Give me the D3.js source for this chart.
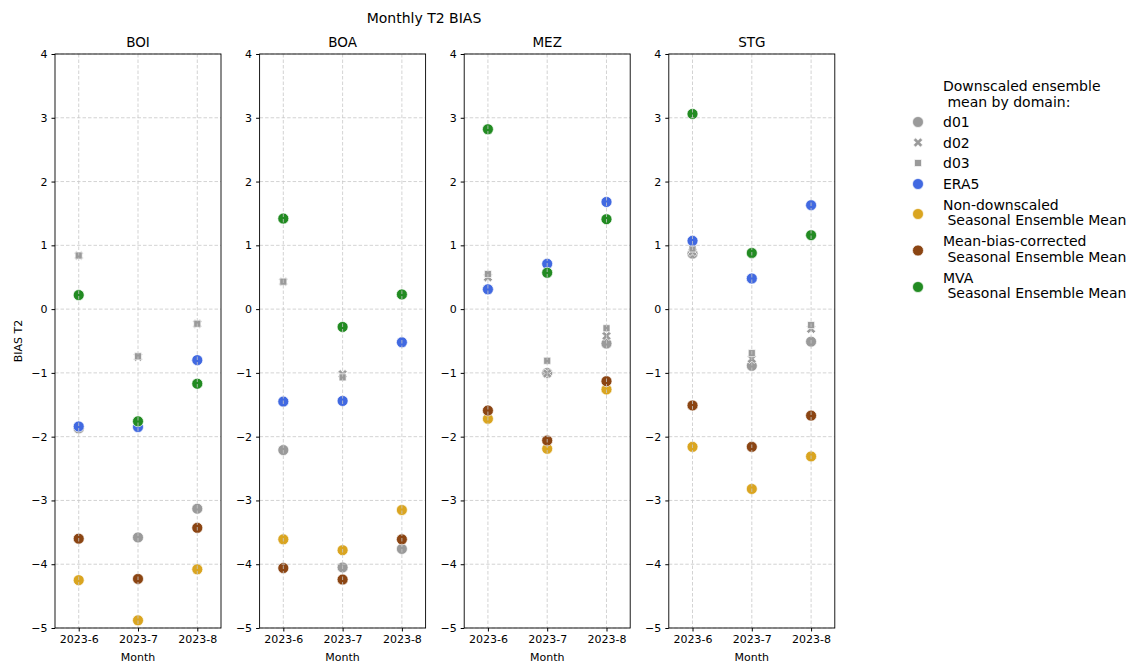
<!DOCTYPE html>
<html>
<head>
<meta charset="utf-8">
<script src="https://cdn.jsdelivr.net/npm/d3@7"></script>
<style>
  body { margin: 0; background: #fff; }
  text { font-family: "DejaVu Sans", sans-serif; fill: #000; }
</style>
</head>
<body>
<svg id="chart" width="1131" height="664"></svg>
<script>
// data
var months = ["2023-6", "2023-7", "2023-8"];
var domains = ["BOI", "BOA", "MEZ", "STG"];
var yTicks = [-5, -4, -3, -2, -1, 0, 1, 2, 3, 4];

// one row per domain (BOI, BOA, MEZ, STG), one value per month
var d01 = [[-1.87, -3.58, -3.13], [-2.21, -4.05, -3.76], [0.31, -1.00, -0.54], [0.87, -0.89, -0.51]];
var d02 = [[0.84, -0.75, -0.23], [0.43, -1.02, null], [0.50, -1.01, -0.42], [0.90, -0.78, -0.31]];
var d03 = [[0.84, -0.74, -0.23], [0.43, -1.07, null], [0.55, -0.81, -0.30], [0.95, -0.69, -0.25]];
var era5 = [[-1.84, -1.85, -0.80], [-1.45, -1.44, -0.52], [0.31, 0.71, 1.68], [1.07, 0.48, 1.63]];
var nonDown = [[-4.25, -4.88, -4.08], [-3.61, -3.78, -3.15], [-1.72, -2.19, -1.26], [-2.16, -2.82, -2.31]];
var meanBias = [[-3.60, -4.23, -3.43], [-4.06, -4.24, -3.61], [-1.59, -2.06, -1.13], [-1.51, -2.16, -1.67]];
var mva = [[0.22, -1.76, -1.17], [1.42, -0.28, 0.23], [2.82, 0.57, 1.41], [3.06, 0.88, 1.16]];

var series = [
	{ label: ["d01"], values: d01, color: "#9a9a9a", shape: "circle" },
	{ label: ["d02"], values: d02, color: "#9a9a9a", shape: "x" },
	{ label: ["d03"], values: d03, color: "#9a9a9a", shape: "square" },
	{ label: ["ERA5"], values: era5, color: "#4169e1", shape: "circle" },
	{ label: ["Non-downscaled", " Seasonal Ensemble Mean"], values: nonDown, color: "#daa520", shape: "circle" },
	{ label: ["Mean-bias-corrected", " Seasonal Ensemble Mean"], values: meanBias, color: "#8b4513", shape: "circle" },
	{ label: ["MVA", " Seasonal Ensemble Mean"], values: mva, color: "#228b22", shape: "circle" }
];

var svg = d3.select("#chart");
var plotTop = 54, plotBottom = 628, panelW = 166, step = 204.6, left0 = 55;

var y = d3.scaleLinear().domain([-5, 4]).range([plotBottom, plotTop]);

// marker symbols
var symCircle = d3.symbol().type(d3.symbolCircle).size(95);
var symSquare = d3.symbol().type(d3.symbolSquare).size(50);

// filled "X" (a plus rotated by 45 degrees)
function xPath(s, t) {
	var p = [[-t, -s], [t, -s], [t, -t], [s, -t], [s, t], [t, t], [t, s], [-t, s], [-t, t], [-s, t], [-s, -t], [-t, -t]];
	return "M" + p.map(function(q) { return q.join(","); }).join("L") + "Z";
}

function drawMarker(g, shape, color, cx, cy) {
	var d;
	if(shape == "x") {
		d = xPath(5, 1.6);
	} else if(shape == "square") {
		d = symSquare();
	} else {
		d = symCircle();
	}
	g.append("path")
		.attr("d", d)
		.attr("transform", "translate(" + cx + "," + cy + ")" + (shape == "x" ? " rotate(45)" : ""))
		.attr("fill", color)
		.attr("stroke", "#fff")
		.attr("stroke-width", 0.7);
}

svg.append("text")
	.attr("x", 424).attr("y", 23)
	.attr("text-anchor", "middle")
	.attr("font-size", 14)
	.text("Monthly T2 BIAS");

svg.append("text")
	.attr("transform", "translate(22,341) rotate(-90)")
	.attr("text-anchor", "middle")
	.attr("font-size", 11)
	.text("BIAS T2");

domains.forEach(function(dom, di) {
	var left = left0 + di * step;
	var x = d3.scaleLinear().domain([-0.4, 2.4]).range([left, left + panelW]);
	var g = svg.append("g");

	// points
	var pts = g.append("g");
	series.forEach(function(s) {
		s.values[di].forEach(function(v, mi) {
			if(v === null) return;
			drawMarker(pts, s.shape, s.color, x(mi), y(v));
		});
	});

	// grid (drawn over the points, as in the reference)
	var grid = g.append("g")
		.attr("stroke", "#c8c8c8")
		.attr("stroke-width", 0.8)
		.attr("stroke-dasharray", "3.5,2");
	yTicks.forEach(function(t) {
		grid.append("line")
			.attr("x1", left).attr("x2", left + panelW)
			.attr("y1", y(t)).attr("y2", y(t));
	});
	months.forEach(function(m, mi) {
		grid.append("line")
			.attr("x1", x(mi)).attr("x2", x(mi))
			.attr("y1", plotTop).attr("y2", plotBottom);
	});

	// axes
	var yAxis = d3.axisLeft(y).tickValues(yTicks).tickSize(3.5).tickPadding(4)
		.tickFormat(function(d) { return d < 0 ? "\u2212" + Math.abs(d) : d; });
	var ya = g.append("g").attr("transform", "translate(" + left + ",0)").call(yAxis);
	ya.select(".domain").remove();
	ya.selectAll("text").attr("font-size", 11).attr("font-family", "DejaVu Sans");

	var xAxis = d3.axisBottom(x).tickValues([0, 1, 2]).tickSize(3.5).tickPadding(4)
		.tickFormat(function(d) { return months[d]; });
	var xa = g.append("g").attr("transform", "translate(0," + plotBottom + ")").call(xAxis);
	xa.select(".domain").remove();
	xa.selectAll("text").attr("font-size", 11).attr("font-family", "DejaVu Sans");

	g.append("rect")
		.attr("x", left).attr("y", plotTop)
		.attr("width", panelW).attr("height", plotBottom - plotTop)
		.attr("fill", "none")
		.attr("stroke", "#000")
		.attr("stroke-width", 0.9);

	g.append("text")
		.attr("x", left + panelW / 2).attr("y", 47)
		.attr("text-anchor", "middle")
		.attr("font-size", 13.5)
		.text(dom);

	g.append("text")
		.attr("x", left + panelW / 2).attr("y", 661)
		.attr("text-anchor", "middle")
		.attr("font-size", 11)
		.text("Month");
});

// legend
var lg = svg.append("g");
lg.append("text").attr("x", 943).attr("y", 91).attr("font-size", 14)
	.text("Downscaled ensemble");
lg.append("text").attr("x", 943).attr("y", 107).attr("font-size", 14)
	.style("white-space", "pre").text(" mean by domain:");

var rowY = [122, 142.5, 163, 184, 214, 250.5, 287];
series.forEach(function(s, i) {
	var cy = rowY[i];
	drawMarker(lg, s.shape, s.color, 918, cy);
	if(s.label.length == 1) {
		lg.append("text").attr("x", 943).attr("y", cy + 5).attr("font-size", 14).text(s.label[0]);
	} else {
		lg.append("text").attr("x", 943).attr("y", cy - 4.5).attr("font-size", 14).text(s.label[0]);
		lg.append("text").attr("x", 943).attr("y", cy + 11).attr("font-size", 14)
			.style("white-space", "pre").text(s.label[1]);
	}
});
</script>
</body>
</html>
